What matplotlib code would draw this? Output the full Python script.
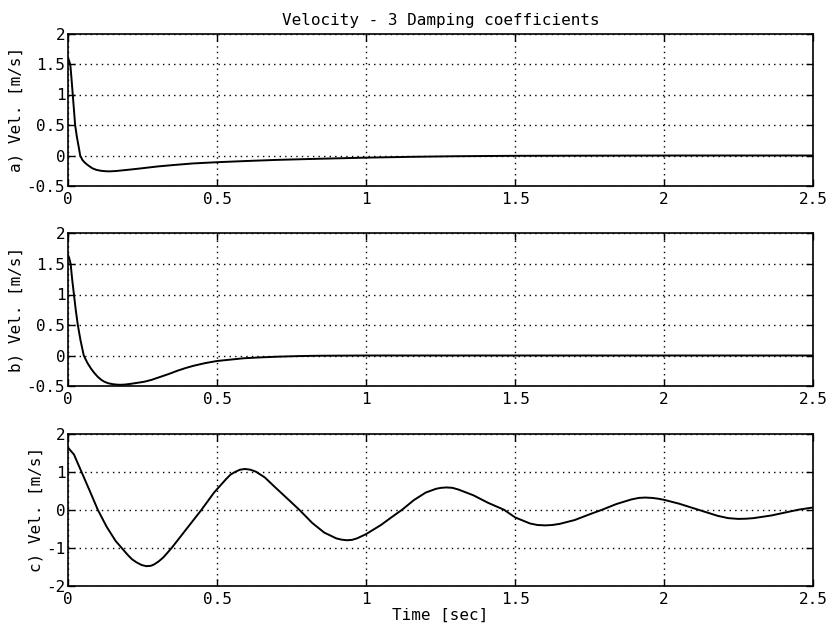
import matplotlib.pyplot as plt
import numpy as np

plt.rcParams['font.family'] = ['DejaVu Sans Mono']
plt.rcParams['font.size'] = 11.5

# values
t_a = [0, 0.004, 0.008, 0.012, 0.016, 0.02, 0.024, 0.03, 0.036, 0.041, 0.048, 0.055, 0.062, 0.07, 0.082,
       0.095, 0.11, 0.126, 0.14, 0.159, 0.18, 0.21, 0.247, 0.3, 0.357, 0.42, 0.5, 0.6, 0.7, 0.83,
       1.0, 1.15, 1.3, 1.5, 1.8, 2.1, 2.5]
v_a = [1.6, 1.55, 1.48, 1.25, 1.0, 0.75, 0.5, 0.3, 0.14, 0.0, -0.07, -0.11, -0.14, -0.17, -0.21,
       -0.235, -0.25, -0.258, -0.26, -0.255, -0.245, -0.23, -0.21, -0.18, -0.155, -0.13, -0.11, -0.09, -0.072, -0.055,
       -0.035, -0.022, -0.012, -0.005, -0.002, 0.0, 0.0]

t_b = [0, 0.004, 0.009, 0.014, 0.02, 0.026, 0.033, 0.042, 0.053, 0.065, 0.078, 0.089, 0.1, 0.112, 0.122,
       0.135, 0.15, 0.165, 0.175, 0.19, 0.21, 0.23, 0.256, 0.28, 0.31, 0.34, 0.367, 0.395, 0.42, 0.46,
       0.5, 0.55, 0.59, 0.65, 0.7, 0.77, 0.84, 1.0, 1.3, 1.7, 2.1, 2.5]
v_b = [1.65, 1.6, 1.5, 1.25, 1.0, 0.75, 0.5, 0.25, 0.0, -0.12, -0.22, -0.29, -0.35, -0.4, -0.43,
       -0.455, -0.47, -0.478, -0.48, -0.477, -0.465, -0.45, -0.43, -0.4, -0.35, -0.3, -0.25, -0.205, -0.17, -0.125,
       -0.09, -0.065, -0.045, -0.03, -0.02, -0.01, -0.004, 0.0, 0.0, 0.0, 0.0, 0.0]

t_c = [0, 0.02, 0.045, 0.07, 0.1, 0.13, 0.16, 0.18, 0.2, 0.215, 0.23, 0.247, 0.263, 0.278, 0.29, 0.305, 0.32,
       0.348, 0.38, 0.41, 0.448, 0.49, 0.53, 0.545, 0.56, 0.577, 0.594, 0.612, 0.63, 0.66, 0.695, 0.735,
       0.776, 0.82, 0.86, 0.9, 0.918, 0.936, 0.953, 0.97, 1.0, 1.05, 1.085, 1.121, 1.16, 1.2, 1.235,
       1.252, 1.27, 1.29, 1.31, 1.36, 1.41, 1.463, 1.5, 1.55, 1.575, 1.602, 1.625, 1.65, 1.7, 1.75,
       1.792, 1.84, 1.89, 1.915, 1.937, 1.96, 1.98, 2.0, 2.05, 2.115, 2.18, 2.215, 2.249, 2.275, 2.3,
       2.36, 2.42, 2.45, 2.5]
v_c = [1.63, 1.45, 1.0, 0.55, 0.0, -0.45, -0.82, -1.0, -1.18, -1.3, -1.38, -1.45, -1.48, -1.47, -1.43, -1.35, -1.25,
       -1.0, -0.68, -0.38, 0.0, 0.45, 0.8, 0.92, 0.99, 1.05, 1.07, 1.05, 1.0, 0.85, 0.59, 0.3,
       0.0, -0.35, -0.6, -0.75, -0.785, -0.8, -0.79, -0.75, -0.64, -0.4, -0.2, 0.0, 0.25, 0.45, 0.55,
       0.575, 0.585, 0.575, 0.53, 0.38, 0.18, 0.0, -0.2, -0.36, -0.4, -0.41, -0.4, -0.37, -0.27, -0.12,
       0.0, 0.15, 0.27, 0.31, 0.32, 0.31, 0.29, 0.26, 0.16, 0.0, -0.16, -0.22, -0.24, -0.235, -0.22,
       -0.15, -0.05, 0.0, 0.06]

x_ticks = [0, 0.5, 1, 1.5, 2, 2.5]
y_ticks_ab = [-0.5, 0, 0.5, 1, 1.5, 2]
y_ticks_c = [-2, -1, 0, 1, 2]

fig = plt.figure(figsize=(8.27, 6.25), dpi=100)

panels = [(t_a, v_a, 'a) Vel. [m/s]', y_ticks_ab, 0.7024),
          (t_b, v_b, 'b) Vel. [m/s]', y_ticks_ab, 0.3824),
          (t_c, v_c, 'c) Vel. [m/s]', y_ticks_c, 0.0624)]

for t, v, lab, yt, bottom in panels:
    ax = fig.add_axes([0.0822, bottom, 0.901, 0.2440])
    ax.plot(t, v, color='black', linewidth=1.4)
    ax.set_xlim(0, 2.5)
    ax.set_ylim(yt[0], yt[-1])
    ax.set_xticks(x_ticks)
    ax.set_xticklabels(['%g' % x for x in x_ticks])
    ax.set_yticks(yt)
    ax.set_yticklabels(['%g' % y for y in yt])
    ax.grid(True, linestyle=(0, (1, 3)), color='black', linewidth=1.0)
    ax.tick_params(direction='in', top=True, right=True, length=5, width=1, labelsize=11.5)
    ax.tick_params(axis='x', pad=4)
    ax.tick_params(axis='y', pad=2)
    for s in ax.spines.values():
        s.set_linewidth(1.2)
    ax.set_ylabel(lab, fontsize=11.5, labelpad=2)
    if bottom > 0.7:
        ax.set_title('Velocity - 3 Damping coefficients', fontsize=11.5, pad=6)

ax.set_xlabel('Time [sec]', fontsize=11.5, labelpad=1)

plt.savefig('out.png', dpi=100)
